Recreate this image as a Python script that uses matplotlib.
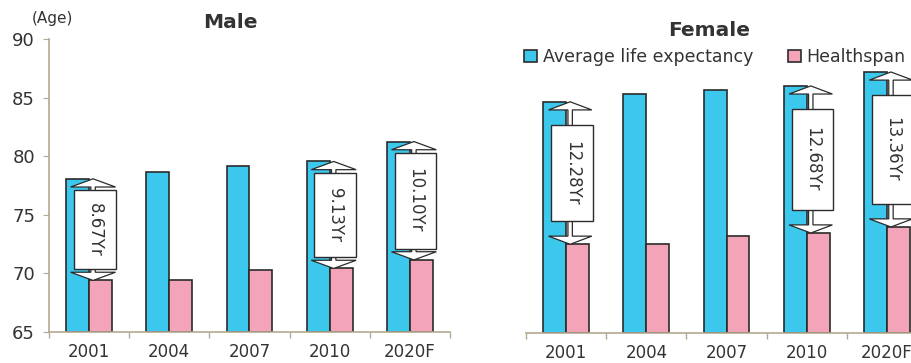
import matplotlib
matplotlib.use("Agg")
import matplotlib.pyplot as plt
from matplotlib.patches import FancyArrow, Rectangle
import numpy as np

plt.rcParams['font.family'] = ['DejaVu Sans']

years = ["2001", "2004", "2007", "2010", "2020F"]
male_life = [78.07, 78.64, 79.19, 79.55, 81.25]
male_health = [69.40, 69.47, 70.33, 70.42, 71.15]
female_life = [84.93, 85.59, 85.99, 86.30, 87.50]
female_health = [72.65, 72.69, 73.36, 73.62, 74.14]
gap_groups = [0, 3, 4]   # groups that get a gap arrow

BLUE = "#3cc8ec"
PINK = "#f4a4b8"
EDGE = "#2b2b2b"
SPINE = "#b3a990"
TXT = "#333333"

fig = plt.figure(figsize=(9.12, 3.63), dpi=100)
ax_m = fig.add_axes([0.0537, 0.0854, 0.4397, 0.8072])
ax_f = fig.add_axes([0.5768, 0.0826, 0.4397, 0.7990])

W = 0.285


def draw_panel(ax, life, health, pad, head_w, head_l):
    x = np.arange(len(years))
    ax.bar(x - W / 2, np.array(life) - 65, W, bottom=65, color=BLUE,
           edgecolor=EDGE, linewidth=1.2, label="Average life expectancy", zorder=2)
    ax.bar(x + W / 2, np.array(health) - 65, W, bottom=65, color=PINK,
           edgecolor=EDGE, linewidth=1.2, label="Healthspan", zorder=2)
    for i in gap_groups:
        top, bot = life[i], health[i]
        mid = (top + bot) / 2
        ax_x = x[i] + 0.05
        # two half arrows, one pointing up to the life bar, one down to the healthspan bar
        for end in (top, bot):
            ax.add_patch(FancyArrow(ax_x, mid, 0, end - mid, width=0.055,
                                    head_width=head_w, head_length=head_l,
                                    length_includes_head=True, fc="white",
                                    ec=EDGE, lw=0.9, zorder=3))
        bx = x[i] + 0.07
        ax.add_patch(Rectangle((bx - 0.26, bot + pad), 0.52, (top - bot) - 2 * pad,
                               fc="white", ec=EDGE, lw=1.0, zorder=4))
        ax.text(bx, mid, f"{top - bot:.2f}Yr", rotation=270, ha="center",
                va="center", fontsize=12, color=TXT, zorder=5)

    ax.set_xlim(-0.5, len(years) - 0.5)
    ax.set_ylim(65, 90)
    ax.set_xticks(x)
    ax.set_xticklabels(years, fontsize=12, color=TXT)
    ax.set_xticks(np.arange(len(years) + 1) - 0.5, minor=True)
    ax.tick_params(axis="x", which="major", length=0, pad=8)
    ax.tick_params(axis="x", which="minor", length=4, color=SPINE, width=1)
    for s in ("top", "right"):
        ax.spines[s].set_visible(False)
    ax.spines["bottom"].set_color(SPINE)
    ax.spines["bottom"].set_linewidth(1.2)


draw_panel(ax_m, male_life, male_health, 0.95, 0.56, 0.7)
draw_panel(ax_f, female_life, female_health, 2.0, 0.54, 0.7)

# male panel: visible age axis
ax_m.set_yticks([65, 70, 75, 80, 85, 90])
ax_m.tick_params(axis="y", length=4, color=SPINE, labelsize=13,
                 labelcolor=TXT, pad=6)
ax_m.spines["left"].set_color(SPINE)
ax_m.spines["left"].set_linewidth(1.2)
fig.text(0.253, 0.937, "Male", fontsize=14.5, fontweight="bold", color=TXT,
         ha="center", va="center")
fig.text(0.058, 0.948, "(Age)", fontsize=11, color=TXT, ha="center", va="center")

# female panel: no age axis
ax_f.spines["left"].set_visible(False)
ax_f.set_yticks([])
fig.text(0.778, 0.917, "Female", fontsize=14.5, fontweight="bold", color=TXT,
         ha="center", va="center")
ax_f.legend(loc="center left", bbox_to_anchor=(0.575, 0.843),
            bbox_transform=fig.transFigure, ncol=2, frameon=False,
            fontsize=12.5, handlelength=0.75, handleheight=0.75,
            handletextpad=0.3, columnspacing=2.0, labelcolor=TXT,
            borderaxespad=0, borderpad=0)

fig.savefig("out.png", dpi=100)
